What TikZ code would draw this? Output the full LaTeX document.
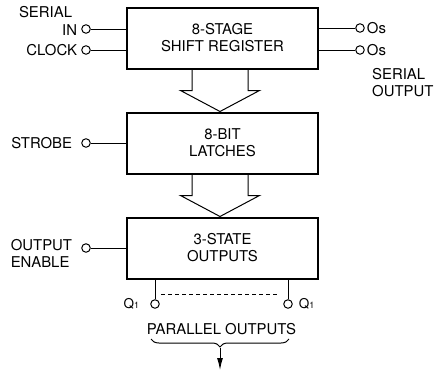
\documentclass[tikz,border=0pt]{standalone}
\usepackage{fontspec}
\setmainfont{TeX Gyre Heros}
\usepackage{tikz}
\usetikzlibrary{calc,positioning}
\usetikzlibrary{arrows.meta,decorations.pathreplacing}

\begin{document}
\begin{tikzpicture}[x=1pt,y=1pt,font=\fontsize{14.9}{17}\selectfont,
    blk/.style={draw,line width=2pt,minimum width=191pt,minimum height=61pt,align=center,inner sep=0pt},
    pin/.style={circle,draw,line width=1pt,inner sep=0pt,minimum size=8.5pt},
    lbl/.style={inner sep=0pt},
    wire/.style={line width=1pt},
    hollow/.style={line width=1pt,line join=miter}]
            \def\sw{28}
            \def\hw{39.5}
            \def\sl{21}
            \def\ao{-2.5}
            \useasboundingbox (0,0) rectangle (434,-372);
            %Blocks
            \node[blk] (sr) at (222.5,-38) {8-STAGE\\SHIFT REGISTER};
            \node[blk] (lt) at (222.5,-143) {8-BIT\\LATCHES};
            \node[blk] (ts) at (222.5,-248) {3-STATE\\OUTPUTS};
            %Hollow arrows
            \draw[hollow] ($(sr.south)+(\ao-\sw,0)$) |- ($(sr.south)+(\ao-\hw,-\sl)$) -- ($(lt.north)+(\ao,0)$)
                -- ($(sr.south)+(\ao+\hw,-\sl)$) -| ($(sr.south)+(\ao+\sw,0)$);
            \draw[hollow] ($(lt.south)+(\ao-\sw,0)$) |- ($(lt.south)+(\ao-\hw,-\sl)$) -- ($(ts.north)+(\ao,0)$)
                -- ($(lt.south)+(\ao+\hw,-\sl)$) -| ($(lt.south)+(\ao+\sw,0)$);
            %Pins
            \node[pin] (sin) at (86,-29) {};
            \node[pin] (clk) at (86,-50) {};
            \node[pin] (stb) at (86,-143) {};
            \node[pin] (oe) at (86,-248) {};
            \node[pin] (qs1) at (360,-28) {};
            \node[pin] (qs2) at (360,-50) {};
            \node[pin] (q1) at (155,-304) {};
            \node[pin] (q8) at (288,-304) {};
            %Wires
            \draw[wire] (sin) -- (sin -| sr.west);
            \draw[wire] (clk) -- (clk -| sr.west);
            \draw[wire] (stb) -- (stb -| lt.west);
            \draw[wire] (oe) -- (oe -| ts.west);
            \draw[wire] (qs1) -- (qs1 -| sr.east);
            \draw[wire] (qs2) -- (qs2 -| sr.east);
            \draw[wire] (q1) -- (q1 |- ts.south);
            \draw[wire] (q8) -- (q8 |- ts.south);
            \coordinate (d1) at ($(q1)+(6,10)$);
            \coordinate (d2) at ($(q8)+(-10,10)$);
            \draw[wire,dash pattern=on 4pt off 3pt] (d1) -- (d2);
            %Labels
            \node[lbl,anchor=east] (inl) at ([xshift=-4,yshift=-1]sin.west) {IN};
            \node[lbl,anchor=south east] (serl) at ([xshift=-5,yshift=6]inl.north east) {SERIAL};
            \node[lbl,anchor=east] (clkl) at ([xshift=-4]clk.west) {CLOCK};
            \node[lbl,anchor=east] (stbl) at ([xshift=-9]stb.west) {STROBE};
            \node[lbl,anchor=east,align=left] (oel) at ([xshift=-9,yshift=-5]oe.west) {OUTPUT\\ENABLE};
            \node[lbl,anchor=west] (qs1l) at ([xshift=2]qs1.east) {Os};
            \node[lbl,anchor=west] (qs2l) at ([xshift=2]qs2.east) {Os};
            \node[lbl,anchor=north west,align=left] (sol) at ($(qs2)+(12,-18)$) {SERIAL\\OUTPUT};
            \node[lbl,anchor=east] (q1l) at ([xshift=-11]q1.west) {\fontsize{13.5}{13.5}\selectfont Q{\fontsize{9}{9}\selectfont 1}};
            \node[lbl,anchor=west] (q8l) at ([xshift=6]q8.east) {\fontsize{13.5}{13.5}\selectfont Q{\fontsize{9}{9}\selectfont 1}};
            \node[lbl,anchor=north] (pol) at ($(q1)!0.5!(q8)+(0,-19)$) {PARALLEL OUTPUTS};
            %Brace
            \coordinate (b1) at (151,-339);
            \coordinate (b2) at (289,-339);
            \coordinate (bt) at ($(b1)!0.5!(b2)+(0,-9)$);
            \coordinate (pout) at ($(bt)+(0,-22)$);
            \draw[wire,decorate,decoration={brace,mirror,amplitude=8pt}] (b1) -- (b2);
            \draw[wire,-{Latex[length=12pt,width=6pt]}] (bt) -- (pout);
        \end{tikzpicture}
\end{document}
